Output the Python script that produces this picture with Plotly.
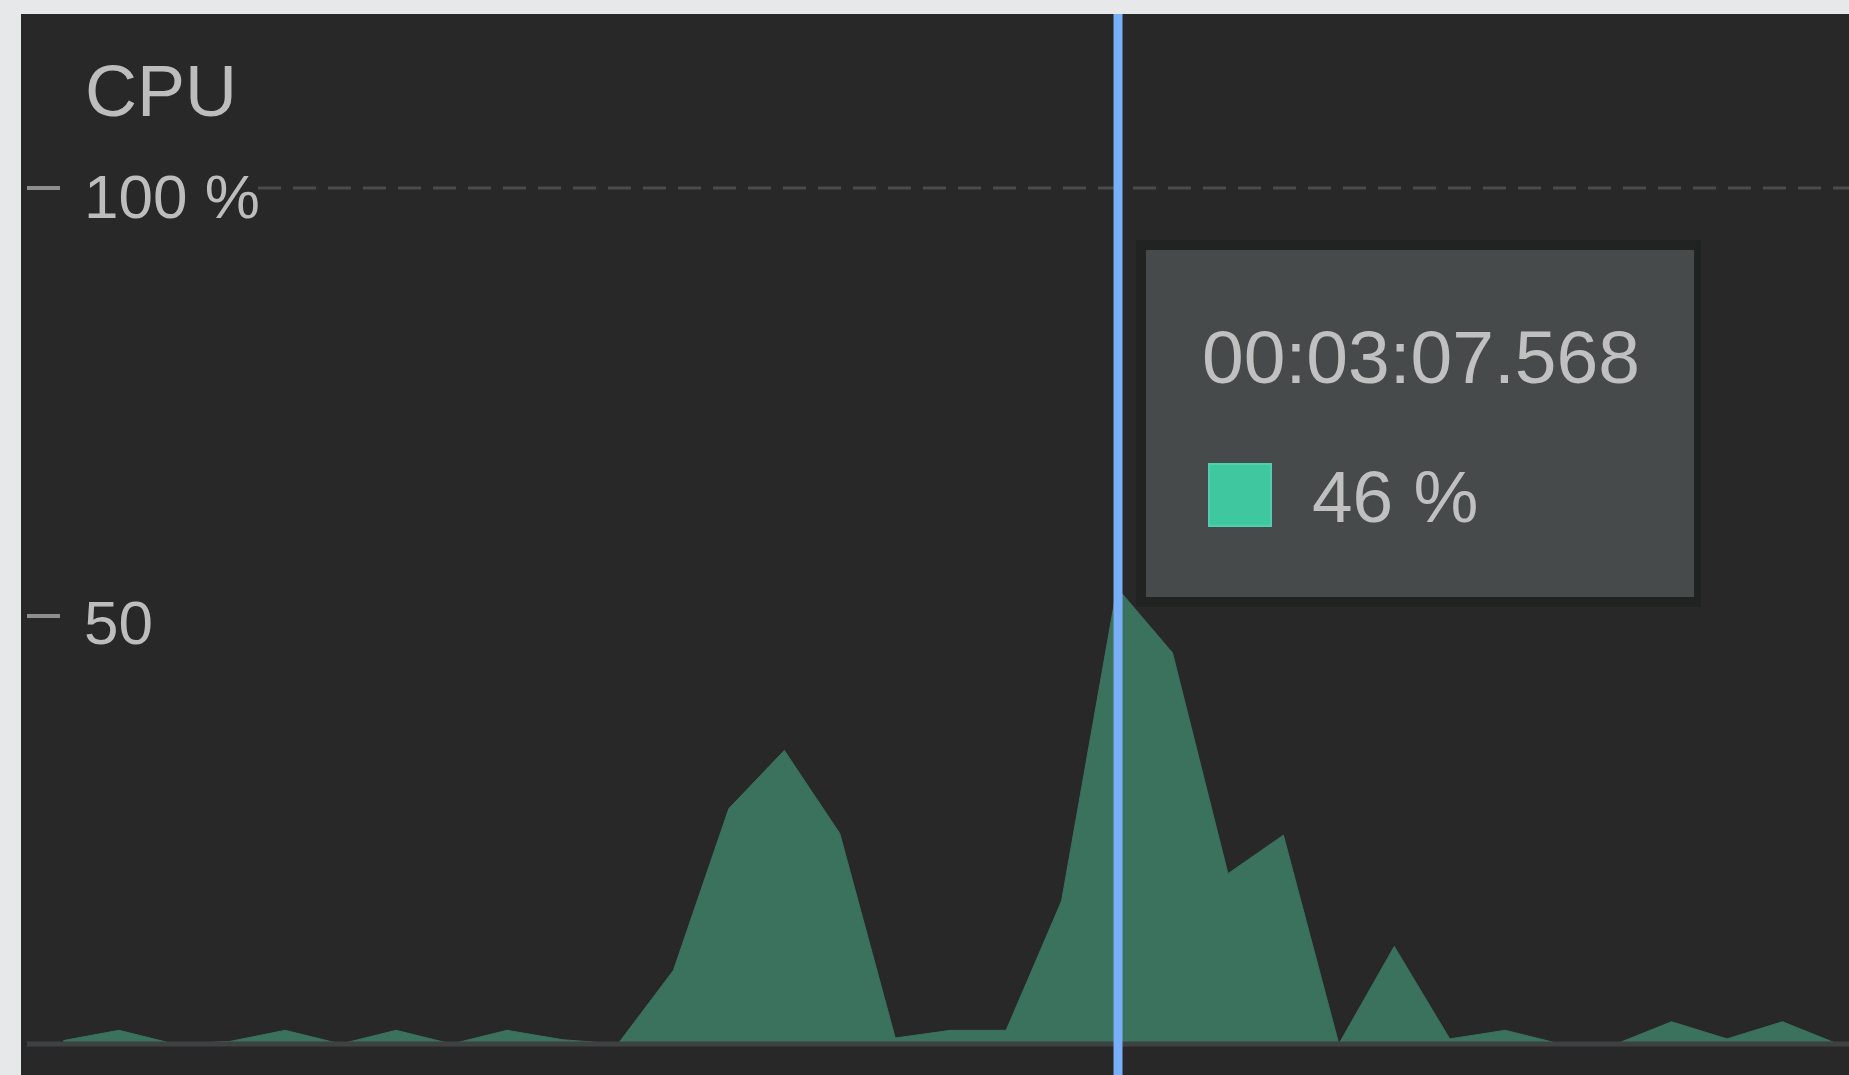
import plotly.graph_objects as go

# ---- data ----
times_s = [168.55, 169.55, 170.55, 171.55, 172.55, 173.55, 174.55, 175.55, 176.55, 177.55,
           178.55, 179.55, 180.55, 181.55, 182.55, 183.55, 184.55, 185.55, 186.55, 187.55,
           188.55, 189.55, 190.55, 191.55, 192.55, 193.55, 194.55, 195.55, 196.55, 197.55,
           198.55, 199.55, 200.55]
cpu_pct = [0.4, 1.6, 0.0, 0.3, 1.6, 0.0, 1.6, 0.0, 1.6, 0.5,
           0.0, 8.6, 27.5, 34.3, 24.6, 0.7, 1.6, 1.6, 16.7, 53.3,
           45.7, 19.9, 24.4, 0.0, 11.4, 0.6, 1.6, 0.0, 0.0, 2.6,
           0.6, 2.6, 0.0]
tick_values = [100, 50]
tick_labels = ["100 %", "50"]
title_text = "CPU"
cursor_time = 187.568
cursor_label = "00:03:07.568"
cursor_value_label = "46 %"

# ---- style ----
W, H = 1849, 1075
ML, MT = 21, 14
PW, PH = W - ML, H - MT
FONT = "Liberation Sans, Arial, Helvetica, sans-serif"
FILL = "#3a725e"
TXT = "#bdbdbd"
PAGE_BG = "#e7e8ea"


def px(x):
    return (x - ML) / PW


def py(y):
    return 1 - (y - MT) / PH


fig = go.Figure()
fig.add_trace(go.Scatter(
    x=times_s, y=cpu_pct, mode="lines", fill="tozeroy",
    line=dict(color=FILL, width=1), fillcolor=FILL, hoverinfo="skip",
    showlegend=False))

shapes = []
# dashed 100% gridline
shapes.append(dict(type="line", xref="paper", yref="y", x0=px(258), x1=1,
                   y0=tick_values[0], y1=tick_values[0],
                   line=dict(color="#4b4b4b", width=3, dash="23px,12px")))
# tick marks
for v in tick_values:
    shapes.append(dict(type="line", xref="paper", yref="y", x0=px(27), x1=px(60),
                       y0=v, y1=v, line=dict(color="#8e8e8e", width=4)))
# baseline band
shapes.append(dict(type="line", xref="paper", yref="y", x0=px(27), x1=1, y0=0, y1=0,
                   line=dict(color="#3d4142", width=5)))
# cursor line
shapes.append(dict(type="line", xref="x", yref="paper", x0=cursor_time, x1=cursor_time,
                   y0=0, y1=1, line=dict(color="#79aff7", width=9)))
# tooltip box
shapes.append(dict(type="rect", xref="paper", yref="paper", x0=px(1136), x1=px(1701),
                   y0=py(607), y1=py(240), fillcolor="#212222", line=dict(width=0)))
shapes.append(dict(type="rect", xref="paper", yref="paper", x0=px(1146), x1=px(1694),
                   y0=py(597), y1=py(250), fillcolor="#464a4a", line=dict(width=0)))
shapes.append(dict(type="rect", xref="paper", yref="paper", x0=px(1209), x1=px(1271),
                   y0=py(526), y1=py(464), fillcolor="#3fc89f",
                   line=dict(color="#4fd0aa", width=2)))

annotations = [
    dict(text=title_text, xref="paper", yref="paper", x=px(83), y=py(91),
         xanchor="left", yanchor="middle", showarrow=False,
         font=dict(family=FONT, size=72, color=TXT)),
    dict(text=cursor_label, xref="paper", yref="paper", x=px(1200), y=py(357),
         xanchor="left", yanchor="middle", showarrow=False,
         font=dict(family=FONT, size=75, color="#c0c0c0")),
    dict(text=cursor_value_label, xref="paper", yref="paper", x=px(1310), y=py(497),
         xanchor="left", yanchor="middle", showarrow=False,
         font=dict(family=FONT, size=73, color="#c0c0c0")),
]
label_shift = {100: -8, 50: -6}
for v, lab in zip(tick_values, tick_labels):
    annotations.append(dict(text=lab, xref="paper", yref="y", x=px(82), y=v,
                            yshift=label_shift[v], xanchor="left", yanchor="middle",
                            showarrow=False,
                            font=dict(family=FONT, size=62, color=TXT)))

fig.update_layout(
    width=W, height=H,
    margin=dict(l=ML, r=0, t=MT, b=0, pad=0),
    paper_bgcolor=PAGE_BG, plot_bgcolor="#282828",
    xaxis=dict(visible=False, range=[167.785, 200.75], fixedrange=True),
    yaxis=dict(visible=False, range=[-3.62, 120.33], fixedrange=True),
    shapes=shapes, annotations=annotations, hovermode=False,
)
fig.write_html(
    "out.html",
    config=dict(displayModeBar=False),
    post_script=(
        "document.body.style.margin='0';"
        "document.body.style.padding='0';"
        "document.body.style.overflow='hidden';"
        f"document.body.style.background='{PAGE_BG}';"
    ),
)
